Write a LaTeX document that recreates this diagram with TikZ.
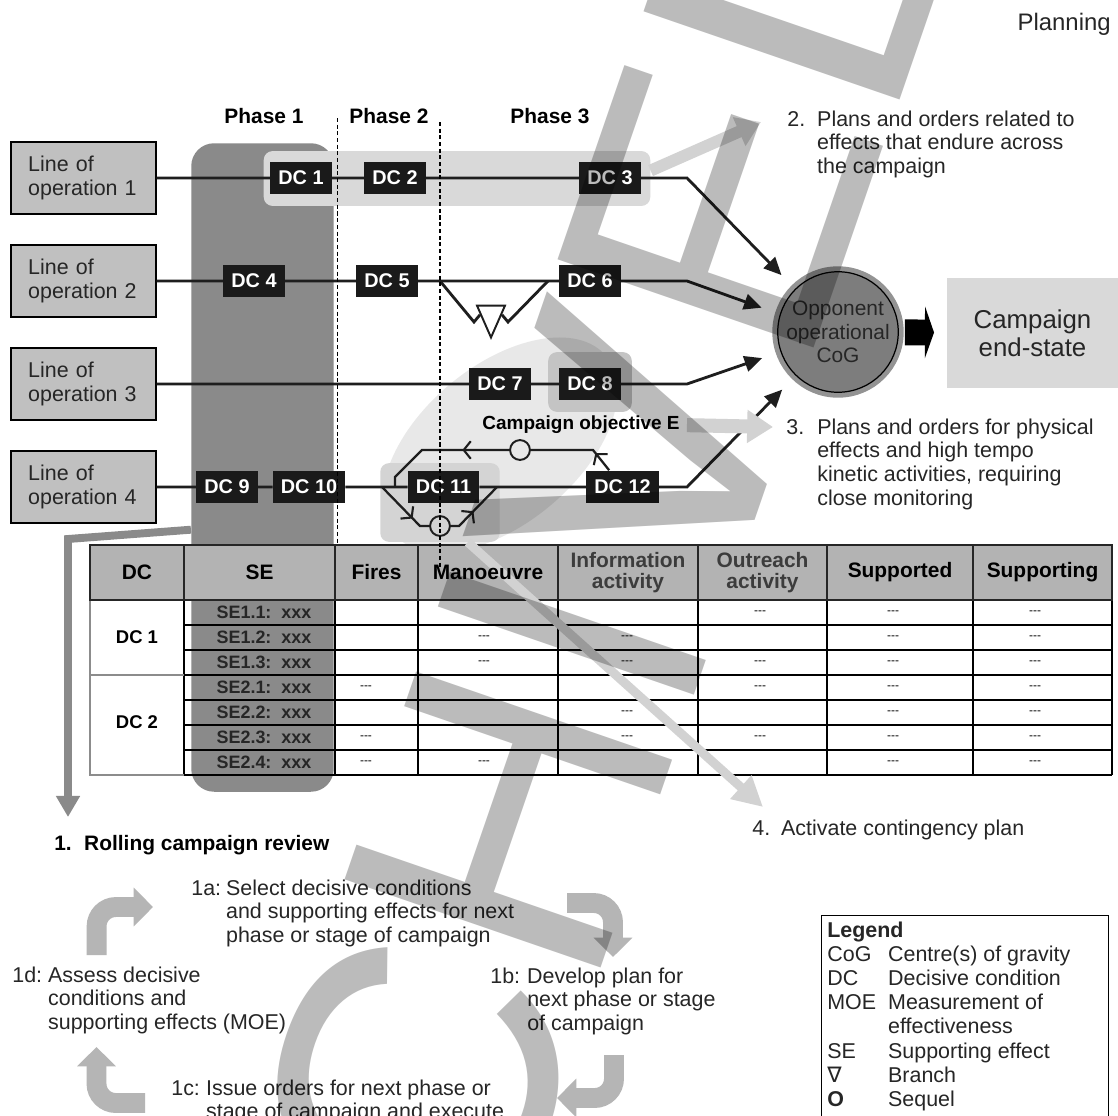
\documentclass[tikz,border=0pt]{standalone}
\usepackage{fontspec}
\setmainfont{Liberation Sans}
\newfontfamily\nablafont{DejaVu Sans}
\usetikzlibrary{positioning,arrows.meta,shapes.geometric,decorations.markings}

\definecolor{txtc}{HTML}{262626}
\definecolor{lnc}{HTML}{1E1E1E}
\definecolor{lofill}{HTML}{C0C0C0}
\definecolor{dcfill}{HTML}{1A1A1A}
\definecolor{ph1c}{HTML}{8A8A8A}
\definecolor{hl13c}{HTML}{D9D9D9}
\definecolor{ellc}{HTML}{E8E8E8}
\definecolor{hl8c}{HTML}{C4C4C4}
\definecolor{hl11c}{HTML}{D4D4D4}
\definecolor{cogfill}{HTML}{7D7D7D}
\definecolor{cogring}{HTML}{939393}
\definecolor{endc}{HTML}{D9D9D9}
\definecolor{hdrc}{HTML}{B3B3B3}
\definecolor{hdgray}{HTML}{3C3C3C}
\definecolor{lgtc}{HTML}{D2D2D2}
\definecolor{cycc}{HTML}{B5B5B5}
\definecolor{wmk}{HTML}{BBBBBB}

\begin{document}
\begin{tikzpicture}[x=0.02cm, y=-0.02cm,
    every node/.style={inner sep=0pt},
    lobox/.style={draw=black, line width=1pt, fill=lofill, text=txtc, align=left,
      text width=62.9pt, inner xsep=9.6pt, minimum width=82.2pt, minimum height=41.4pt,
      font=\fontsize{12.2}{13.6}\selectfont},
    dcbox/.style={fill=dcfill, text=white, font=\bfseries\fontsize{11.3}{12}\selectfont,
      inner xsep=4.5pt, minimum width=35.1pt, minimum height=18.7pt},
    hlbox/.style={rounded corners=5pt},
    loline/.style={draw=lnc, line width=1.6pt},
    cogarrow/.style={loline, -{Triangle[length=10pt,width=9pt]}, shorten >=11pt},
    phaseline/.style={line width=0.9pt, dash pattern=on 2.3pt off 1.5pt},
    seqline/.style={draw=lnc, line width=1.3pt},
    barb/.style={postaction={decorate}, decoration={markings,
      mark=at position #1 with {\arrow{Straight Barb[length=4pt,width=10pt,line width=1.2pt]}}}},
    sequel/.style={circle, draw=lnc, line width=1.1pt, minimum size=11.3pt},
    branchsym/.style={isosceles triangle, isosceles triangle stretches, shape border rotate=270,
      draw=lnc, line width=1.1pt, fill=white, minimum width=15.9pt, minimum height=18.1pt},
    cognode/.style={circle, fill=cogfill, draw=black, line width=0.7pt, minimum size=68.6pt,
      preaction={draw=cogring, line width=6.2pt}, align=center, text=txtc,
      font=\fontsize{11.9}{13.3}\selectfont},
    endbox/.style={fill=endc, minimum width=96.9pt, minimum height=62.4pt, align=center,
      text=txtc, font=\fontsize{14.7}{15.9}\selectfont},
    bigarrow/.style={draw=black, line width=14.7pt, -{Triangle[length=5.2pt,width=29.5pt]},
      shorten <=3.4pt, shorten >=7.4pt},
    phaselbl/.style={font=\bfseries\fontsize{11.9}{13}\selectfont},
    numlbl/.style={anchor=base west, text=txtc, font=\fontsize{12.2}{13.6}\selectfont},
    hdrtxt/.style={align=center, font=\bfseries\fontsize{11.9}{11.9}\selectfont},
    setxt/.style={font=\bfseries\fontsize{10.2}{11}\selectfont, text=txtc},
    dctxt/.style={font=\bfseries\fontsize{10.5}{11}\selectfont},
    dashtxt/.style={font=\fontsize{6.8}{7}\selectfont},
    hdrline/.style={draw=black!85, line width=1.6pt},
    tblline/.style={draw=black, line width=0.9pt},
    tblgray/.style={draw=black!45, line width=0.8pt},
    cycarrow/.style={draw=cycc, line width=11.3pt, rounded corners=11pt,
      -{Triangle[length=11pt,width=21.5pt]}},
    revarrow/.style={draw=ph1c, line width=4.5pt, -{Triangle[length=12pt,width=13pt]}},
    wmark/.style={rotate=71, anchor=base west, text=wmk, font=\fontsize{224}{224}\selectfont}]

  \useasboundingbox (0,0) rectangle (1118,1115);
  \fill[white] (0,0) rectangle (1118,1115);

  % shaded areas behind the lines of operation
  \node[ellipse, rotate=40, fill=ellc, minimum width=157.6pt, minimum height=89.6pt] (objE) at (500,445) {};
  \node[fill=ph1c, rounded corners=13pt, minimum width=81.1pt, minimum height=369.1pt] (ph1) at (262.5,467.5) {};
  \node[hlbox, fill=hl13c, minimum width=220pt, minimum height=31.2pt] (hl13) at (457,178.5) {};
  \node[hlbox, fill=hl8c, minimum width=47.6pt, minimum height=34pt] (hl8) at (590,382) {};
  \node[hlbox, fill=hl11c, minimum width=68pt, minimum height=44.8pt] (hl11) at (440,502.5) {};

  % table
  \fill[hdrc] (90,545) rectangle (1112,600);
  \fill[white] (90,600) rectangle (191,775);
  \fill[white] (334,600) rectangle (1112,775);
  \foreach \y in {625,650,...,775}
    \draw[tblline] (184,\y) -- (1112,\y);
  \foreach \x in {184,335,418,558,698,827,973,1112}
    \draw[tblline] (\x,600) -- (\x,775);
  \draw[tblgray] (90,600) -- (90,775) -- (184,775);
  \draw[tblgray] (90,675) -- (184,675);
  \draw[hdrline] (90,545) rectangle (1112,600);
  \foreach \x in {184,335,418,558,698,827,973}
    \draw[hdrline] (\x,545) -- (\x,600);

  \coordinate (tip4) at (763,807);
  \draw[draw=lgtc, line width=5.1pt, -{Triangle[length=17pt,width=17pt]}] (hl11.-55) -- (tip4);

  \foreach \x/\t [count=\k] in {137/DC, 259.5/SE, 376.5/Fires, 488/Manoeuvre, 900/Supported, 1042.5/Supporting}
    \node[hdrtxt] (hd\k) at (\x,572.5) {\t};
  \node[hdrtxt, text=hdgray] (hdinfo) at (628,572.5) {Information\\activity};
  \node[hdrtxt, text=hdgray] (hdout) at (762.5,572.5) {Outreach\\activity};
  \foreach \t [count=\k] in {1.1,1.2,1.3,2.1,2.2,2.3,2.4}
    \node[setxt] (se\k) at (264,587.5+25*\k) {SE\t:\ \ xxx};
  \node[dctxt] (tdc1) at (137,637.5) {DC 1};
  \node[dctxt] (tdc2) at (137,722) {DC 2};
  \foreach \k in {1,...,7} {
    \node[dashtxt] (sup\k) at (893,587.5+25*\k) {-{}-{}-};
    \node[dashtxt] (spt\k) at (1035,587.5+25*\k) {-{}-{}-};
  }
  \foreach \x/\k [count=\j] in {760/1, 484/2, 627/2, 484/3, 627/3, 760/3, 366/4, 760/4,
      627/5, 366/6, 627/6, 760/6, 366/7, 484/7}
    \node[dashtxt] (dsh\j) at (\x,587.5+25*\k) {-{}-{}-};

  % lines of operation
  \foreach \i/\y in {1/178,2/281,3/384,4/487}
    \node[lobox] (lo\i) at (83.5,\y) {Line of\\operation \i};
  \foreach \n/\x/\y in {1/301/178, 2/395/178, 3/610/178, 4/254/281, 5/387/281, 6/590/281,
      7/500/384, 8/590/384, 9/227/487, 10/309/487, 11/443.5/487, 12/622.5/487}
    \node[dcbox] (dc\n) at (\x,\y) {DC \n};

  \node[cognode] (cog) at (838,332) {Opponent\\operational\\CoG};
  \node[endbox] (endst) at (1032.5,333) {Campaign\\end-state};
  \draw[bigarrow] (cog) -- (endst);

  \draw[cogarrow] (lo1) -- (dc1) -- (dc2) -- (dc3) -- (687,178) -- (cog.135);
  \draw[cogarrow] (lo2) -- (dc4) -- (dc5) -- (dc6) -- (687,281) -- (cog.163);
  \draw[cogarrow] (lo3) -- (dc7) -- (dc8) -- (687,384) -- (cog.199);
  \draw[cogarrow] (lo4) -- (dc9) -- (dc10) -- (dc11) -- (dc12) -- (687,487) -- (cog.226);

  % branch on line 2
  \node[branchsym, anchor=apex] (br2) at (491,340) {};
  \coordinate (fork2) at (440,281);
  \coordinate (join2) at (548,281);
  \draw[loline] (fork2) -- (474,322) -- (br2.west);
  \draw[loline] (br2.east) -- (508,322) -- (join2);

  % sequels on line 4
  \node[sequel, fill=ellc] (sqa) at (520,450) {};
  \node[sequel, fill=hl11c] (sqb) at (440,526) {};
  \coordinate (fork4a) at (395,487);
  \coordinate (fork4b) at (382,487);
  \coordinate (join4) at (497,487);
  \draw[seqline, barb=12.5pt] (dc12) -- (593,450) -- (sqa);
  \draw[seqline, barb=26.6pt] (sqa) -- (422,450) -- (395,477) -- (fork4a);
  \draw[seqline, barb=25pt] (fork4b) -- (420,526) -- (sqb);
  \draw[seqline, barb=16.4pt] (sqb) -- (459,526) -- (join4);

  % phases
  \draw[phaseline] (337.5,118) -- (337.5,545);
  \draw[phaseline] (440,122) -- (440,567);
  \node[phaselbl] (ph1lbl) at (264,116) {Phase 1};
  \node[phaselbl] (ph2lbl) at (389,116) {Phase 2};
  \node[phaselbl] (ph3lbl) at (550,116) {Phase 3};
  \node[font=\bfseries\fontsize{10.8}{12}\selectfont] (objlbl) at (581,425) {Campaign objective E};

  % hand-offs
  \coordinate (tip2) at (761,122);
  \coordinate (tip3) at (773,427);
  \coordinate (revtip) at (68,817);
  \draw[draw=lgtc, line width=6.8pt, -{Triangle[length=13.6pt,width=17pt]}] ([yshift=4.5pt]hl13.east) -- (tip2);
  \draw[draw=lgtc, line width=8pt, -{Triangle[length=14.7pt,width=18pt]}, shorten <=4pt] (objlbl.east) -- (tip3);
  \draw[revarrow] ([yshift=-35.4pt]ph1.west) -- (68,539) -- (revtip);

  % texts
  \node[anchor=base east, text=txtc, font=\fontsize{13.6}{15}\selectfont] (plan) at (1111,31) {Planning};
  \node[numlbl] (lbl2) at (787,126) {\begin{tabular}[t]{@{}p{17pt}@{}l@{}}
    2. & Plans and orders related to\\ & effects that endure across\\ & the campaign\end{tabular}};
  \node[numlbl] (lbl3) at (786,434) {\begin{tabular}[t]{@{}p{17.6pt}@{}l@{}}
    3. & Plans and orders for physical\\ & effects and high tempo\\ & kinetic activities, requiring\\ & close monitoring\end{tabular}};
  \node[numlbl] (lbl4) at (752,835) {\begin{tabular}[t]{@{}p{16.4pt}@{}l@{}}
    4. & Activate contingency plan\end{tabular}};
  \node[numlbl, text=black, font=\bfseries\fontsize{11.9}{13.6}\selectfont] (lbl1) at (54,850) {\begin{tabular}[t]{@{}p{17pt}@{}l@{}}
    1. & Rolling campaign review\end{tabular}};
  \node[numlbl] (lbl1a) at (191,895) {\begin{tabular}[t]{@{}p{19.8pt}@{}l@{}}
    1a: & Select decisive conditions\\ & and supporting effects for next\\ & phase or stage of campaign\end{tabular}};
  \node[numlbl] (lbl1b) at (490,983) {\begin{tabular}[t]{@{}p{21pt}@{}l@{}}
    1b: & Develop plan for\\ & next phase or stage\\ & of campaign\end{tabular}};
  \node[numlbl] (lbl1d) at (12,982) {\begin{tabular}[t]{@{}p{20.4pt}@{}l@{}}
    1d: & Assess decisive\\ & conditions and\\ & supporting effects (MOE)\end{tabular}};
  \node[numlbl] (lbl1c) at (171,1095) {\begin{tabular}[t]{@{}p{19.8pt}@{}l@{}}
    1c: & Issue orders for next phase or\\ & stage of campaign and execute\end{tabular}};

  % review cycle
  \draw[cycarrow] (96.6,955) -- (96.6,907) -- (153,907);
  \draw[cycarrow] (567,903) -- (613,903) -- (613,957);
  \draw[cycarrow] (614,1055) -- (614,1098) -- (557,1098);
  \draw[cycarrow] (145,1103) -- (96.5,1103) -- (96.5,1047);

  % legend
  \node[draw, line width=0.8pt, fill=white, anchor=north west, minimum width=163.3pt, minimum height=127.6pt] (legbox) at (821,915) {};
  \node[numlbl, font=\fontsize{12.2}{13.8}\selectfont] (legend) at (827,937) {\begin{tabular}[t]{@{}p{34.6pt}@{}l@{}}
    \multicolumn{2}{@{}l@{}}{\textbf{Legend}}\\
    CoG & Centre(s) of gravity\\
    DC & Decisive condition\\
    MOE & Measurement of\\
        & effectiveness\\
    SE & Supporting effect\\
    {\nablafont ∇} & Branch\\
    \textbf{O} & Sequel\end{tabular}};

  % archive stamp
  \begin{scope}[blend mode=multiply]
    \node[wmark] (wm) at (319.4,1784.4) {ARCHIVED};
  \end{scope}
\end{tikzpicture}
\end{document}
